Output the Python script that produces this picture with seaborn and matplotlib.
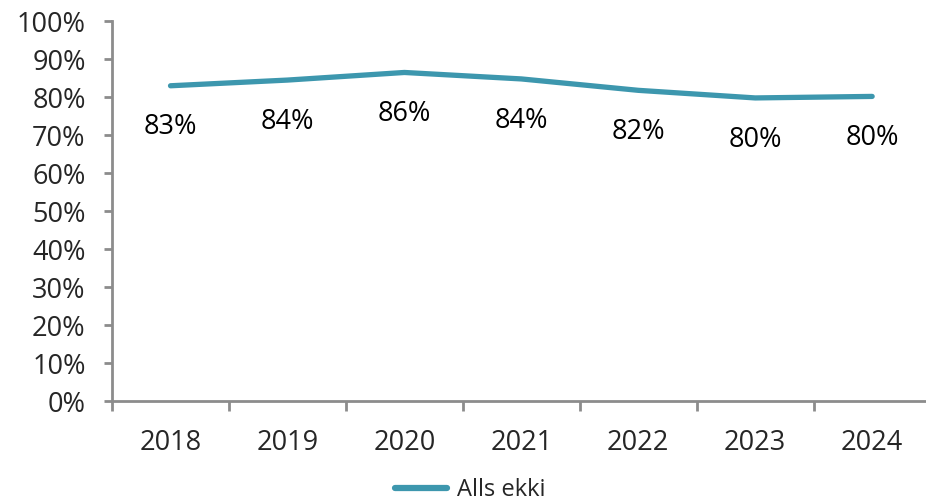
import matplotlib
matplotlib.use("Agg")
import matplotlib.pyplot as plt
import seaborn as sns
import numpy as np
import pandas as pd

years = ["2018", "2019", "2020", "2021", "2022", "2023", "2024"]
values = [0.830, 0.845, 0.865, 0.848, 0.818, 0.798, 0.802]
labels = ["83%", "84%", "86%", "84%", "82%", "80%", "80%"]
series_name = "Alls ekki"

df = pd.DataFrame({"year": years, "value": values, "series": series_name})

sns.set_style("white")
plt.rcParams["font.family"] = ["Open Sans", "DejaVu Sans"]

color = "#3D97AE"
axis_grey = "#8C8C8C"
fs = 19.5

fig = plt.figure(figsize=(9.26, 5.04), dpi=100)
ax = fig.add_axes([0.121, 0.204, 0.884, 0.754])

sns.lineplot(data=df, x="year", y="value", hue="series", palette=[color],
             linewidth=3.8, sort=False, ax=ax)

for i, (v, lab) in enumerate(zip(values, labels)):
    ax.annotate(lab, (i, v), xytext=(0, -30), textcoords="offset points",
                ha="center", va="center", fontsize=fs, color="black")

ax.set_xlim(-0.5, len(years) - 0.5)
ax.set_ylim(0, 1)
ticks = np.arange(0, 1.01, 0.1)
ax.set_yticks(ticks)
ax.set_yticklabels([f"{int(round(t * 100))}%" for t in ticks])
ax.set_xticks(range(len(years)))
ax.set_xticklabels(years)
ax.set_xticks(np.arange(-0.5, len(years), 1), minor=True)

ax.tick_params(axis="x", which="major", bottom=False, length=0, pad=20, labelsize=fs)
ax.tick_params(axis="x", which="minor", bottom=True, length=7, width=2,
               color=axis_grey, direction="out")
ax.tick_params(axis="y", which="major", left=True, length=6, width=2, color=axis_grey,
               direction="out", pad=13, labelsize=fs)

for s in ["top", "right"]:
    ax.spines[s].set_visible(False)
for s in ["left", "bottom"]:
    ax.spines[s].set_color(axis_grey)
    ax.spines[s].set_linewidth(2)

ax.set_xlabel("")
ax.set_ylabel("")

leg = ax.legend(loc="center", bbox_to_anchor=(0.508, 0.028), bbox_transform=fig.transFigure,
                frameon=False, fontsize=17, handlelength=2.2, handletextpad=0.4)
for line in leg.get_lines():
    line.set_linewidth(4.5)

fig.savefig("out.png", dpi=100)
